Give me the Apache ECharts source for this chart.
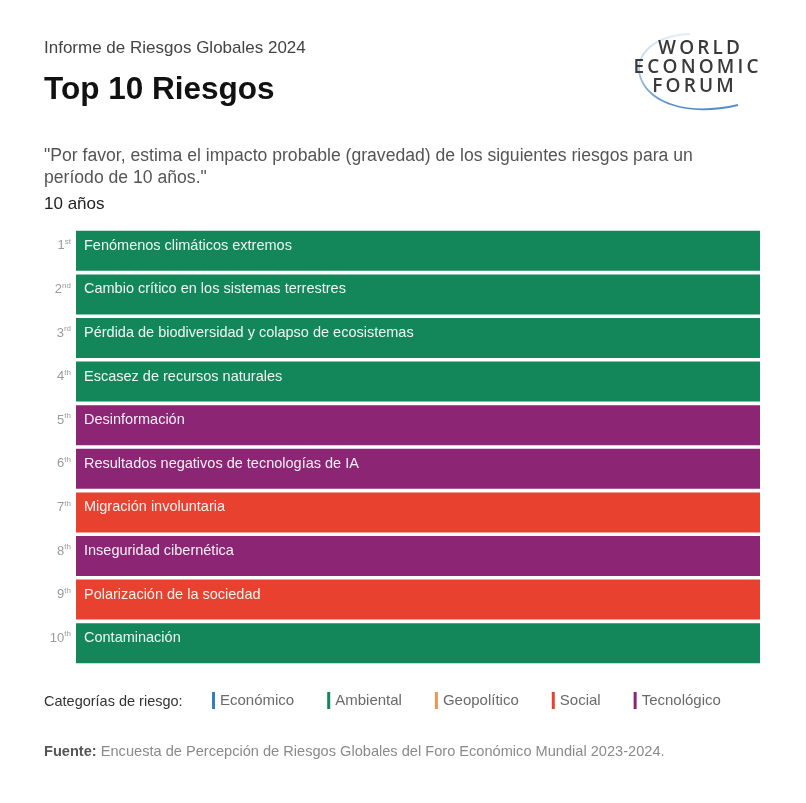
<!DOCTYPE html>
<html>
<head>
<meta charset="utf-8">
<script src="https://cdn.jsdelivr.net/npm/echarts@6/dist/echarts.min.js"></script>
<style>
  html, body { margin: 0; padding: 0; background: #fff; }
  #chart { width: 806px; height: 803px; }
</style>
</head>
<body>
<div id="chart"></div>
<script>
// ranking
var ranks = ['1', '2', '3', '4', '5', '6', '7', '8', '9', '10'];
var suffixes = ['st', 'nd', 'rd', 'th', 'th', 'th', 'th', 'th', 'th', 'th'];
var risks = [
    'Fenómenos climáticos extremos',
    'Cambio crítico en los sistemas terrestres',
    'Pérdida de biodiversidad y colapso de ecosistemas',
    'Escasez de recursos naturales',
    'Desinformación',
    'Resultados negativos de tecnologías de IA',
    'Migración involuntaria',
    'Inseguridad cibernética',
    'Polarización de la sociedad',
    'Contaminación'
];
var riskCategory = ['Ambiental', 'Ambiental', 'Ambiental', 'Ambiental', 'Tecnológico',
    'Tecnológico', 'Social', 'Tecnológico', 'Social', 'Ambiental'];
var values = [1, 1, 1, 1, 1, 1, 1, 1, 1, 1];
var categoryNames = ['Económico', 'Ambiental', 'Geopolítico', 'Social', 'Tecnológico'];
var categoryColors = ['#2f7fc1', '#14875a', '#ef9452', '#e8412f', '#8b2574'];

var chartDom = document.getElementById('chart');
var myChart = echarts.init(chartDom);
var FONT = '"Liberation Sans", Arial, sans-serif';
var LOGO_FONT = '"Open Sans", sans-serif';

var series = [];
for (let c = 0; c < categoryNames.length; c++) {
    let d = [];
    for (let i = 0; i < risks.length; i++) {
        d.push(riskCategory[i] === categoryNames[c] ? values[i] : '-');
    }
    series.push({
        name: categoryNames[c],
        type: 'bar',
        stack: 'rank',
        barWidth: 40,
        itemStyle: { color: categoryColors[c] },
        label: {
            show: true,
            position: 'insideLeft',
            distance: 8,
            offset: [0, -5],
            color: 'rgba(255,255,255,0.93)',
            fontFamily: FONT,
            fontSize: 14.5,
            formatter: function (p) { return p.name; }
        },
        data: d
    });
}

function logoWord(word, x, y) {
    return {
        type: 'text', x: x, y: y,
        style: {
            text: word.split('').join('\u2009'),
            textAlign: 'center', textVerticalAlign: 'middle',
            fontFamily: LOGO_FONT, fontSize: 19, fontWeight: 600, fill: '#3a3a3a'
        }
    };
}

var option = {
    animation: false,
    backgroundColor: '#fff',
    grid: { left: 76, right: 46, top: 229, bottom: 138 },
    xAxis: { type: 'value', min: 0, max: 1, show: false },
    yAxis: {
        type: 'category',
        inverse: true,
        data: risks,
        axisLine: { show: false },
        axisTick: { show: false },
        axisLabel: {
            margin: 5,
            padding: [0, 0, 10, 0],
            formatter: function (value, index) {
                return '{n|' + ranks[index] + '}{s|' + suffixes[index] + '}';
            },
            rich: {
                n: { fontSize: 13, color: '#9a9a9a', fontFamily: FONT, lineHeight: 16 },
                s: { fontSize: 8, color: '#9a9a9a', fontFamily: FONT, verticalAlign: 'top', lineHeight: 9 }
            }
        }
    },
    legend: {
        left: 212,
        top: 692,
        padding: 0,
        icon: 'rect',
        itemWidth: 3,
        itemHeight: 17,
        itemGap: 33,
        selectedMode: false,
        data: categoryNames,
        textStyle: { fontFamily: FONT, fontSize: 15, color: '#6a6a6a' }
    },
    graphic: [
        { type: 'text', left: 44, top: 40, style: { text: 'Informe de Riesgos Globales 2024', fontFamily: FONT, fontSize: 17, fill: '#444' } },
        { type: 'text', left: 44, top: 74, style: { text: 'Top 10 Riesgos', fontFamily: FONT, fontSize: 31.5, fontWeight: 'bold', fill: '#111' } },
        { type: 'text', left: 44, top: 145, style: { text: '"Por favor, estima el impacto probable (gravedad) de los siguientes riesgos para un\nperíodo de 10 años."', fontFamily: FONT, fontSize: 17.6, lineHeight: 22, fill: '#555' } },
        { type: 'text', left: 44, top: 196, style: { text: '10 años', fontFamily: FONT, fontSize: 17, fill: '#222' } },
        { type: 'text', left: 44, top: 694, style: { text: 'Categorías de riesgo:', fontFamily: FONT, fontSize: 14.5, fill: '#333' } },
        { type: 'text', left: 44, top: 744, style: {
            text: '{b|Fuente:} Encuesta de Percepción de Riesgos Globales del Foro Económico Mundial 2023-2024.',
            fontFamily: FONT, fontSize: 14.6, fill: '#8a8a8a',
            rich: { b: { fontFamily: FONT, fontSize: 14.6, fontWeight: 'bold', fill: '#555' } }
        } },
        // logo swoosh
        { type: 'bezierCurve',
          shape: { x1: 690, y1: 34, cpx1: 605, cpy1: 38, cpx2: 630, cpy2: 130, x2: 738, y2: 105 },
          style: {
              fill: null, lineWidth: 1.8,
              stroke: new echarts.graphic.LinearGradient(0, 0, 0, 1, [
                  { offset: 0, color: 'rgba(170,200,230,0.3)' },
                  { offset: 0.6, color: 'rgba(120,165,215,0.8)' },
                  { offset: 1, color: '#4a86c5' }
              ])
          } },
        logoWord('WORLD', 699, 48.5),
        logoWord('ECONOMIC', 696, 67.5),
        logoWord('FORUM', 693, 87)
    ],
    series: series
};
myChart.setOption(option);
</script>
</body>
</html>
